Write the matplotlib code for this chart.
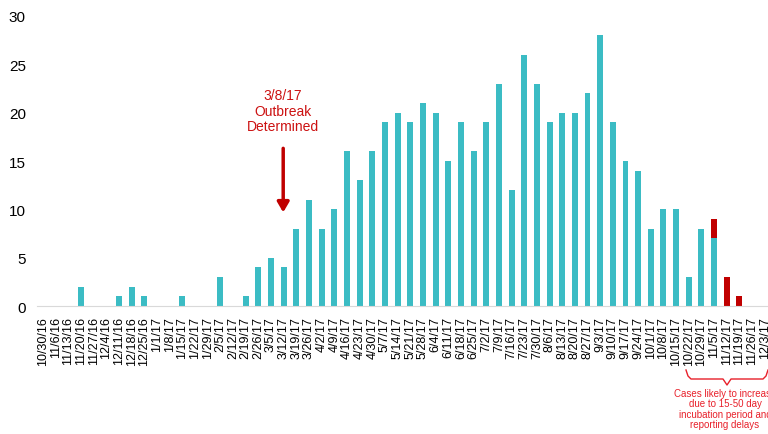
import matplotlib
matplotlib.use("Agg")
import matplotlib.pyplot as plt
from matplotlib.lines import Line2D
import numpy as np

plt.rcParams['font.family'] = ['Liberation Sans', 'DejaVu Sans']

weeks = ["10/30/16", "11/6/16", "11/13/16", "11/20/16", "11/27/16", "12/4/16",
         "12/11/16", "12/18/16", "12/25/16", "1/1/17", "1/8/17", "1/15/17",
         "1/22/17", "1/29/17", "2/5/17", "2/12/17", "2/19/17", "2/26/17",
         "3/5/17", "3/12/17", "3/19/17", "3/26/17", "4/2/17", "4/9/17",
         "4/16/17", "4/23/17", "4/30/17", "5/7/17", "5/14/17", "5/21/17",
         "5/28/17", "6/4/17", "6/11/17", "6/18/17", "6/25/17", "7/2/17",
         "7/9/17", "7/16/17", "7/23/17", "7/30/17", "8/6/17", "8/13/17",
         "8/20/17", "8/27/17", "9/3/17", "9/10/17", "9/17/17", "9/24/17",
         "10/1/17", "10/8/17", "10/15/17", "10/22/17", "10/29/17", "11/5/17",
         "11/12/17", "11/19/17", "11/26/17", "12/3/17"]

reported = [0, 0, 0, 2, 0, 0, 1, 2, 1, 0, 0, 1, 0, 0, 3, 0, 1, 4,
            5, 4, 8, 11, 8, 10, 16, 13, 16, 19, 20, 19, 21, 20, 15, 19,
            16, 19, 23, 12, 26, 23, 19, 20, 20, 22, 28, 19, 15, 14,
            8, 10, 10, 3, 8, 7, 0, 0, 0, 0]

recent = [0] * 53 + [2, 3, 1, 0, 0]

teal = "#3BBCC4"
red = "#C00000"

fig = plt.figure(figsize=(7.68, 4.35), dpi=100)
ax = fig.add_axes([0.048, 0.294, 0.956, 0.667])

x = np.arange(len(weeks))
ax.bar(x, reported, width=0.47, color=teal)
ax.bar(x, recent, width=0.47, bottom=reported, color=red)

ax.set_xlim(-0.5, len(weeks) - 0.5)
ax.set_ylim(0, 30)
ax.set_yticks([0, 5, 10, 15, 20, 25, 30])
ax.set_xticks(x)
ax.set_xticklabels(weeks, rotation=90, fontsize=9)
ax.tick_params(axis="y", length=0, labelsize=11, pad=8)
ax.tick_params(axis="x", length=0, pad=7)

for side in ["top", "right", "left"]:
    ax.spines[side].set_visible(False)
ax.spines["bottom"].set_color("#D9D9D9")

ax.text(18.96, 20.2, "3/8/17\nOutbreak\nDetermined", color="#CC1111",
        fontsize=10, ha="center", va="center", linespacing=1.15)
ax.annotate("", xy=(18.96, 9.4), xytext=(18.96, 16.6),
            arrowprops=dict(arrowstyle="-|>,head_width=0.35,head_length=0.6",
                            color=red, lw=2.5))

# bracket below the last weeks
W, H = 768.0, 435.0
bx = [686, 688, 691, 723, 727, 731, 763, 766, 768]
by = [371, 377, 380, 380, 386, 380, 380, 377, 371]
fig.add_artist(Line2D([v / W for v in bx], [1 - v / H for v in by],
                      color="#E8202A", lw=1.0))
fig.text(725 / W, 1 - 389 / H,
         "Cases likely to increase\ndue to 15-50 day\nincubation period and\nreporting delays",
         color="#E8202A", fontsize=7, ha="center", va="top", linespacing=1.05)

fig.savefig("out.png", dpi=100)
